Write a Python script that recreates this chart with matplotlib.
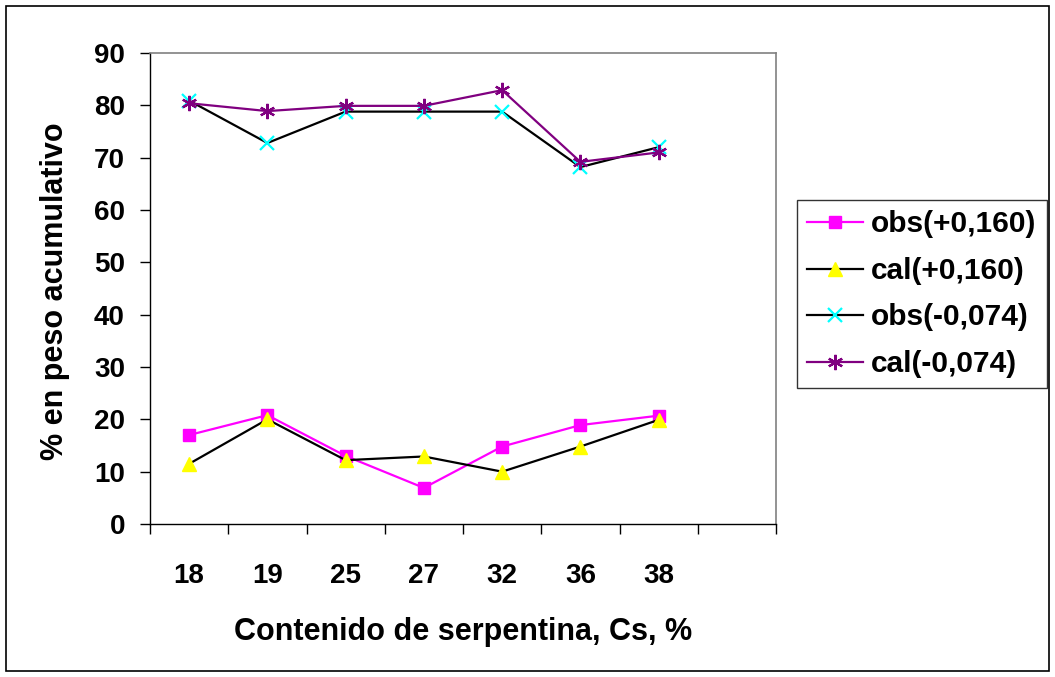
import matplotlib
matplotlib.use("Agg")
import matplotlib.pyplot as plt
from matplotlib.patches import Rectangle

categories = ["18", "19", "25", "27", "32", "36", "38"]
obs_pos = [17.0, 20.8, 13.0, 6.9, 14.8, 18.9, 20.7]
cal_pos = [11.5, 20.0, 12.2, 12.9, 10.0, 14.8, 19.9]
obs_neg = [80.9, 72.8, 78.8, 78.8, 78.8, 68.2, 72.0]
cal_neg = [80.4, 78.9, 79.9, 79.9, 82.9, 69.2, 71.0]
n_slots = 8

plt.rcParams['font.family'] = ['Liberation Sans', 'DejaVu Sans']
plt.rcParams['font.weight'] = 'bold'

fig = plt.figure(figsize=(10.55, 6.77), dpi=100)
ax = fig.add_axes([150/1055, 1-524/677, (776-150)/1055, (524-53)/677])

x = [i + 0.5 for i in range(len(categories))]
ax.plot(x, obs_pos, color='#FF00FF', lw=1.6, marker='s', ms=8, mfc='#FF00FF', mec='#FF00FF', label='obs(+0,160)')
ax.plot(x, cal_pos, color='black', lw=1.6, marker='^', ms=10, mfc='#FFFF00', mec='#FFFF00', label='cal(+0,160)')
ax.plot(x, obs_neg, color='black', lw=1.6, marker='x', ms=10, mew=1.6, mec='#00FFFF', label='obs(-0,074)')
ax.plot(x, cal_neg, color='#800080', lw=1.6, marker=(6, 2, 0), ms=11, mew=1.6, mec='#800080', label='cal(-0,074)')

ax.set_xlim(0, n_slots)
ax.set_ylim(0, 90)
ax.set_yticks(range(0, 91, 10))
ax.set_xticks(x)
ax.set_xticklabels(categories)
ax.set_xticks(range(n_slots + 1), minor=True)
ax.tick_params(axis='x', which='major', length=0, pad=28, labelsize=20)
ax.tick_params(axis='x', which='minor', length=7, width=1, direction='out')
ax.tick_params(axis='y', length=7, width=1, direction='out', labelsize=20, pad=11)
for lab in ax.get_xticklabels() + ax.get_yticklabels():
    lab.set_fontweight('bold')

for s in ['top', 'right']:
    ax.spines[s].set_color('#808080')
    ax.spines[s].set_linewidth(1.2)
for s in ['left', 'bottom']:
    ax.spines[s].set_color('black')
    ax.spines[s].set_linewidth(1)

fig.text(463/1055, 1-632/677, 'Contenido de serpentina, Cs, %', ha='center', va='center',
         fontsize=22, fontweight='bold')
fig.text(55/1055, 1-291/677, '% en peso acumulativo', ha='center', va='center',
         rotation=90, fontsize=22, fontweight='bold')

leg = fig.legend(loc='upper left', bbox_to_anchor=(797/1055, 1-200/677),
                 frameon=True, fancybox=False, edgecolor='black',
                 handlelength=1.85, handletextpad=0.28, labelspacing=0.62, borderpad=0.35,
                 borderaxespad=0, prop={'weight': 'bold', 'size': 21.5})
leg.get_frame().set_linewidth(1)

fig.patches.append(Rectangle((6/1055, 6/677), 1 - 12/1055, 1 - 12/677, transform=fig.transFigure,
                             fill=False, edgecolor='black', lw=1.2))

fig.savefig('out.png', dpi=100)
